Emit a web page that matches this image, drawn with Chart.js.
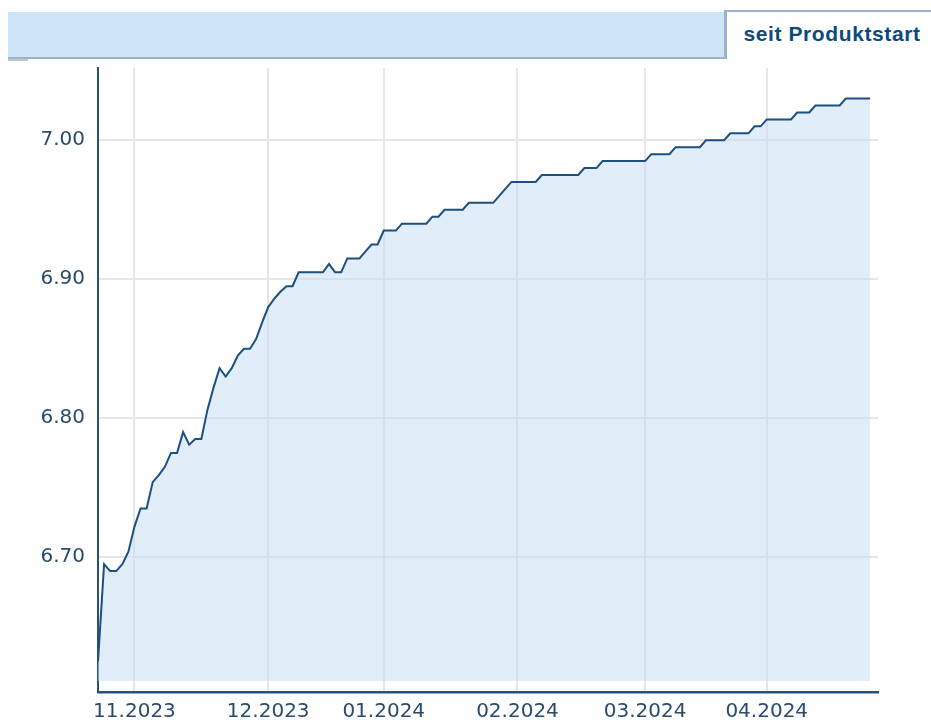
<!DOCTYPE html>
<html>
<head>
<meta charset="utf-8">
<script src="https://cdn.jsdelivr.net/npm/chart.js@4.4.1/dist/chart.umd.min.js"></script>
<style>
    body { margin: 0; background: #fff; width: 931px; height: 720px; overflow: hidden; position: relative; }
    #bar { position: absolute; left: 8px; top: 12px; width: 716px; height: 45px; background: #cfe4f7; border-bottom: 2px solid #9db2c8; z-index: 2; }
    #barTip { position: absolute; left: 8px; top: 59px; width: 20px; height: 2px; background: #b9c7d6; z-index: 2; }
    #tab { position: absolute; left: 724px; top: 10px; width: 198px; height: 47px; background: #fff;
           border-top: 2px solid #9db2c8; border-left: 3px solid #9db2c8; padding-left: 6px;
           font: bold 21px "Liberation Sans", Arial, sans-serif; color: #0b4a7e; letter-spacing: 0.6px;
           line-height: 44px; text-align: center; z-index: 2; }
    #wrap { position: absolute; left: 0; top: 43px; width: 931px; height: 677px; z-index: 1; }
</style>
</head>
<body>
<div id="bar"></div>
<div id="barTip"></div>
<div id="tab">seit Produktstart</div>
<div id="wrap"><canvas id="navChart" width="931" height="677"></canvas></div>

<script>
// --- data: one value per trading day, 24.10.2023 .. 25.04.2024 ---
const navValues = [
    6.625, 6.695, 6.690, 6.690, 6.695, 6.704, 6.722, 6.735, 6.735, 6.754,
    6.759, 6.765, 6.775, 6.775, 6.790, 6.781, 6.785, 6.785, 6.806, 6.822,
    6.836, 6.830, 6.836, 6.845, 6.850, 6.850, 6.857, 6.869, 6.880, 6.886,
    6.891, 6.895, 6.895, 6.905, 6.905, 6.905, 6.905, 6.905, 6.911, 6.905,
    6.905, 6.915, 6.915, 6.915, 6.920, 6.925, 6.925, 6.935, 6.935, 6.935,
    6.940, 6.940, 6.940, 6.940, 6.940, 6.945, 6.945, 6.950, 6.950, 6.950,
    6.950, 6.955, 6.955, 6.955, 6.955, 6.955, 6.960, 6.965, 6.970, 6.970,
    6.970, 6.970, 6.970, 6.975, 6.975, 6.975, 6.975, 6.975, 6.975, 6.975,
    6.980, 6.980, 6.980, 6.985, 6.985, 6.985, 6.985, 6.985, 6.985, 6.985,
    6.985, 6.990, 6.990, 6.990, 6.990, 6.995, 6.995, 6.995, 6.995, 6.995,
    7.000, 7.000, 7.000, 7.000, 7.005, 7.005, 7.005, 7.005, 7.010, 7.010,
    7.015, 7.015, 7.015, 7.015, 7.015, 7.020, 7.020, 7.020, 7.025, 7.025,
    7.025, 7.025, 7.025, 7.030, 7.030, 7.030, 7.030, 7.030
];

// first trading day of each month (index into navValues) and its label
const monthTickIdx = [6, 28, 47, 69, 90, 110];
const monthLabels = ['11.2023', '12.2023', '01.2024', '02.2024', '03.2024', '04.2024'];

const yTickValues = [6.70, 6.80, 6.90, 7.00];

const fillBase = 6.611;

const axisColor = '#2a5179';
const labelColor = '#2b4a6c';
const gridColor = '#e6e6e6';

const ctx = document.getElementById('navChart').getContext('2d');

new Chart(ctx, {
    type: 'line',
    data: {
        datasets: [{
            data: navValues.map((v, i) => ({ x: i, y: v })),
            borderColor: '#1c4f82',
            borderWidth: 2,
            backgroundColor: 'rgba(198, 221, 243, 0.52)',
            fill: { value: fillBase },
            pointRadius: 0,
            tension: 0
        }]
    },
    options: {
        responsive: false,
        animation: false,
        layout: { padding: { top: 0, right: 53, left: 0, bottom: 0 } },
        plugins: {
            legend: { display: false },
            tooltip: { enabled: false }
        },
        scales: {
            x: {
                type: 'linear',
                min: 0,
                max: 128.3,
                afterFit: s => { s.height = 28; },
                afterBuildTicks: s => { s.ticks = monthTickIdx.map(v => ({ value: v })); },
                grid: { color: gridColor, lineWidth: 2, drawTicks: false },
                border: { display: true, color: axisColor, width: 2.5 },
                ticks: {
                    autoSkip: false,
                    maxRotation: 0,
                    padding: 8,
                    color: labelColor,
                    font: { family: 'Verdana, "DejaVu Sans", sans-serif', size: 20 },
                    callback: v => monthLabels[monthTickIdx.indexOf(v)] || ''
                }
            },
            y: {
                min: 6.603,
                max: 7.052,
                afterFit: s => { s.width = 98; },
                afterBuildTicks: s => { s.ticks = yTickValues.map(v => ({ value: v })); },
                grid: { color: gridColor, lineWidth: 2, drawTicks: false },
                border: { display: true, color: axisColor, width: 2 },
                ticks: {
                    padding: 13,
                    color: labelColor,
                    font: { family: 'Verdana, "DejaVu Sans", sans-serif', size: 20 },
                    callback: v => v.toFixed(2)
                }
            }
        }
    }
});
</script>
</body>
</html>
